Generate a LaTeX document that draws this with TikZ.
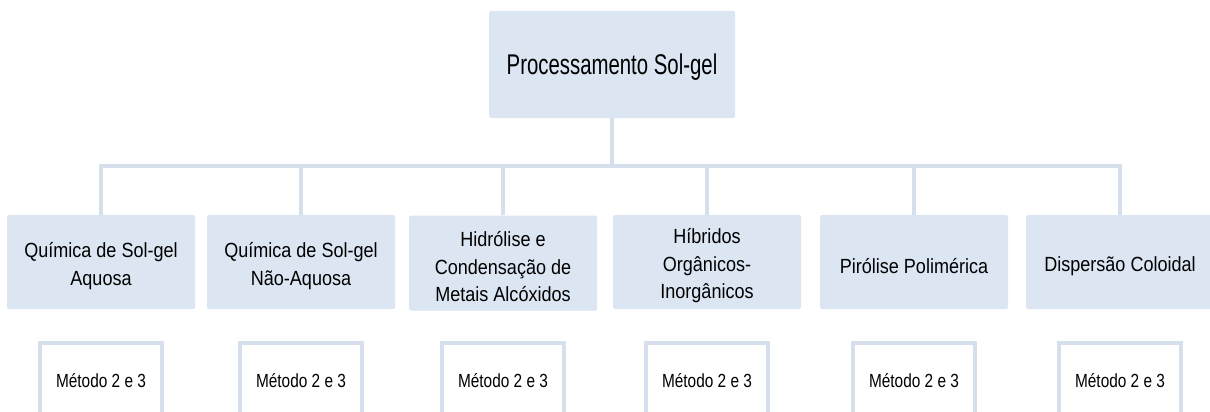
\documentclass[tikz,border=0pt]{standalone}
\usepackage{fontspec}
\setmainfont{Liberation Sans}
\newfontfamily\topfont[FakeStretch=0.715]{Liberation Sans}
\newfontfamily\midfont[FakeStretch=0.88]{Liberation Sans}
\newfontfamily\botfont[FakeStretch=0.81]{Liberation Sans}
\definecolor{boxfill}{HTML}{DCE6F2}
\definecolor{lineblue}{HTML}{D6E0ED}
\begin{document}
\begin{tikzpicture}[x=1pt,y=-1pt,
  topbox/.style={fill=boxfill, rounded corners=1.5pt, minimum width=246pt, minimum height=107pt, inner sep=0pt},
  toptext/.style={inner sep=0pt, yshift=-3pt, font=\topfont\fontsize{28.5}{32}\selectfont, text=black},
  midbox/.style={fill=boxfill, rounded corners=1.5pt, minimum width=188pt, minimum height=94pt, inner sep=0pt},
  midtext/.style={inner sep=0pt, yshift=-4pt, align=center, font=\midfont\fontsize{20.5}{27.5}\selectfont, text=black},
  botbox/.style={draw=lineblue, line width=3.5pt, fill=white, minimum width=122pt, anchor=north,
    inner xsep=0pt, inner ysep=0pt, text height=45pt, text depth=46pt,
    font=\botfont\fontsize{19}{22}\selectfont, text=black},
  conn/.style={draw=lineblue, line width=4pt}]
\useasboundingbox (0,0) rectangle (1210,412);
\fill[white] (0,0) rectangle (1210,412);
\node[topbox, label={[toptext]center:Processamento Sol-gel}] (top) at (612,64.5) {};
\node[midbox, label={[midtext]center:{Química de Sol-gel\\Aquosa}}] (c1) at (101,262) {};
\node[midbox, label={[midtext]center:{Química de Sol-gel\\Não-Aquosa}}] (c2) at (301,262) {};
\node[midbox, minimum height=95pt, label={[midtext]center:{Hidrólise e\\Condensação de\\Metais Alcóxidos}}] (c3) at (503,263) {};
\node[midbox, label={[midtext]center:{Híbridos\\Orgânicos-\\Inorgânicos}}] (c4) at (707,262) {};
\node[midbox, label={[midtext]center:Pirólise Polimérica}] (c5) at (914,262) {};
\node[midbox, label={[midtext]center:Dispersão Coloidal}] (c6) at (1120,262) {};
\foreach \i/\x in {1/101,2/301,3/503,4/707,5/914,6/1120}{
  \node[botbox] (m\i) at (\x,341) {Método 2 e 3};
}
\coordinate (bus) at (612,166);
\draw[conn] (top.south) -- (top.south |- bus);
\draw[conn, line cap=rect] (c1.north |- bus) -- (c6.north |- bus);
\foreach \i in {1,...,6}{
  \draw[conn] (c\i.north |- bus) -- (c\i.north);
}
\end{tikzpicture}
\end{document}
